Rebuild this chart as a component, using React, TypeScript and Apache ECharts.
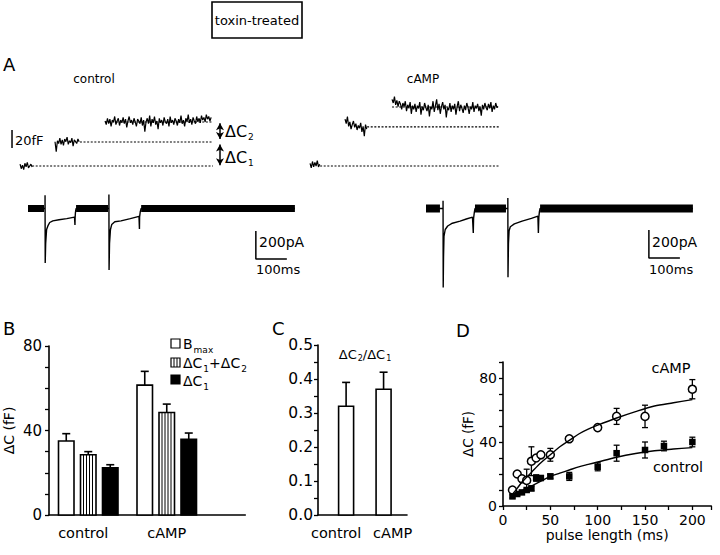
import React, { useEffect, useRef } from 'react';
import * as echarts from 'echarts';

const FONT = 'DejaVu Sans';

// ---------- Panel A : capacitance traces (time ms, fF) ----------
const CAP_DT = 6; // sampling interval (ms)
const capLeftStarts = [0, 174, 423];
const capLeft1 = [2, -3, 1, -4, 3, -1, 4, -2, 0, 2, -1];
const capLeft2 = [27, 16, 28, 25, 31, 24, 29, 23, 30, 27, 32, 24, 28, 26, 31, 22, 29, 27, 25, 30, 27];
const capLeft3 = [
  50, 46, 53, 47, 52, 44, 51, 49, 55, 46,
  50, 53, 45, 51, 48, 54, 47, 52, 43, 50,
  55, 48, 51, 46, 53, 49, 44, 52, 50, 47,
  54, 45, 51, 38, 49, 53, 47, 56, 44, 52,
  48, 55, 46, 50, 41, 53, 48, 51, 45, 54,
  49, 47, 52, 44, 55, 48, 51, 46, 53, 50,
  45, 52, 48, 56, 47, 51, 44, 53, 49, 57,
  48, 52, 46, 54, 50, 47, 55, 49, 53, 48,
  56, 51, 54, 49, 57, 52, 55, 50, 54,
];
const capLeftLevels = [0, 26.7, 48.9];
const capLeftDots = [[60, 960], [298, 960], [423, 955]];

const capRightStarts = [0, 174, 408];
const capRight1 = [3, -2, 5, -1, 4, 0, 6, -1, 2];
const capRight2 = [52, 47, 55, 44, 49, 41, 46, 50, 43, 47, 40, 45, 42, 48, 38, 44, 33, 46, 41];
const capRight3 = [
  74, 70, 77, 68, 73, 66, 72, 69, 63, 70,
  66, 72, 61, 68, 64, 71, 58, 67, 63, 69,
  60, 67, 64, 71, 57, 66, 62, 70, 65, 61,
  68, 55, 66, 63, 72, 60, 67, 74, 62, 69,
  58, 66, 71, 63, 68, 54, 65, 62, 70, 60,
  67, 63, 69, 57, 66, 72, 61, 68, 64, 59,
  67, 62, 70, 65, 58, 66, 63, 71, 60, 67,
  64, 69, 61, 66, 56, 68, 63, 70, 65, 62,
  69, 64, 71, 60, 67, 63, 70, 65, 66,
];
const capRightLevels = [0, 43.5, 65.5];
const capRightDots = [[50, 945], [284, 945], [408, 935]];

const capScaleFF = 20;
const capScaleAt = [-40, 20];
const deltaArrows = [[995, 47.5, 30], [995, 24, 0.8]];

// ---------- Panel A : current traces (time ms, pA) ----------
const currLeftTrace = [
  [0, 0], [55, 0], [55, 95], [55.5, -390], [57, -250], [60, -150], [65, -120], [70, -100], [80, -88],
  [100, -80], [125, -72], [150, -62], [151, -62], [151.5, -118], [152, -65], [153, -30], [155, 0],
  [261, 0], [261, 100], [261.5, -440], [263, -250], [266, -150], [270, -115], [280, -95], [300, -88],
  [330, -72], [358, -56], [359, -56], [359.5, -146], [360, -60], [362, -25], [365, 0], [861, 0],
];
const currLeftBands = [[0, 52], [155, 258], [365, 861]];
const currRightTrace = [
  [0, 0], [55, 0], [55, 55], [55.5, -564], [56.5, -350], [58, -200], [62, -150], [70, -125], [85, -105],
  [110, -90], [130, -75], [150, -62], [152, -60], [152.5, -175], [153.5, -70], [156, -25], [158, 0],
  [264, 0], [264, 75], [264.5, -491], [266, -250], [268, -160], [272, -130], [285, -110], [310, -90],
  [340, -70], [361, -55], [362, -55], [362.5, -175], [364, -60], [366, -20], [368, 0], [861, 0],
];
const currRightBands = [[0, 45], [158, 258], [368, 861]];
const scaleMs = 100;
const scalePA = 200;
const currLeftScaleAt = [735, -361];
const currRightScaleAt = [719, -354];

// ---------- Panel B ----------
const groupNames = ['control', 'cAMP'];
const groupPos = [1, 2];
const bmaxMean = [35, 61.5];
const bmaxErr = [3.5, 6.5];
const sumMean = [28.5, 48.5];
const sumErr = [1.5, 4];
const c1Mean = [22.3, 35.8];
const c1Err = [1.5, 3];

// ---------- Panel C ----------
const ratioMean = [0.32, 0.37];
const ratioErr = [0.07, 0.05];

// ---------- Panel D ----------
const campPulse = [10, 15, 20, 25, 30, 35, 40, 50, 70, 100, 120, 150, 200];
const campVals = [10, 20, 17, 16, 28, 30, 32, 32, 42, 49, 56, 56, 73];
const campErr = [1.5, 1.5, 1.5, 7, 9, 1.5, 1.5, 4, 1.5, 1.5, 5, 7, 6];
const ctrlPulse = [10, 15, 20, 25, 30, 35, 40, 50, 70, 100, 120, 150, 170, 200];
const ctrlVals = [6, 7.5, 8.5, 10, 11, 17.5, 17.5, 18.5, 18.5, 24.5, 33, 35, 37.5, 40];
const ctrlErr = [1, 1, 1, 1, 1.5, 2, 1.5, 1.5, 2.5, 2.5, 5, 5, 3, 3];
const campFitX = [8, 15, 20, 30, 40, 50, 60, 70, 80, 90, 100, 120, 140, 160, 180, 200];
const campFitY = [6, 11, 15, 21, 27, 32, 37, 41, 45, 48, 50.5, 55, 59, 62.5, 64.5, 66.5];
const ctrlFitX = [8, 20, 30, 40, 50, 60, 70, 80, 90, 100, 120, 140, 160, 180, 200];
const ctrlFitY = [5, 9.5, 12.5, 15.5, 18.5, 20.5, 22.5, 24.5, 26, 27.5, 30.5, 32.8, 34.5, 35.6, 36.5];

const near = (a: number, b: number) => Math.abs(a - b) < 1e-6;

function barItem(offset: number, width: number, fill: string, striped: boolean) {
  return (_p: any, api: any) => {
    const x = api.value(0), v = api.value(1), e = api.value(2);
    const base = api.coord([x, 0]);
    const top = api.coord([x, v]);
    const et = api.coord([x, v + e]);
    const cx = base[0] + offset;
    const left = cx - width / 2;
    const children: any[] = [
      { type: 'line', shape: { x1: cx, y1: top[1], x2: cx, y2: et[1] }, style: { stroke: '#000', lineWidth: 1.6 } },
      { type: 'line', shape: { x1: cx - 4, y1: et[1], x2: cx + 4, y2: et[1] }, style: { stroke: '#000', lineWidth: 1.6 } },
      { type: 'rect', shape: { x: left, y: top[1], width, height: base[1] - top[1] }, style: { fill, stroke: '#000', lineWidth: 1.6 } },
    ];
    if (striped) {
      for (let sx = left + 3; sx < left + width - 1; sx += 3) {
        children.push({ type: 'line', shape: { x1: sx, y1: top[1], x2: sx, y2: base[1] }, style: { stroke: '#000', lineWidth: 1 } });
      }
    }
    return { type: 'group', children };
  };
}

function errItem(_p: any, api: any) {
  const x = api.value(0), y = api.value(1), e = api.value(2);
  const a = api.coord([x, y - e]);
  const b = api.coord([x, y + e]);
  const st = { stroke: '#000', lineWidth: 1.3 };
  return {
    type: 'group',
    children: [
      { type: 'line', shape: { x1: a[0], y1: a[1], x2: b[0], y2: b[1] }, style: st },
      { type: 'line', shape: { x1: a[0] - 3, y1: a[1], x2: a[0] + 3, y2: a[1] }, style: st },
      { type: 'line', shape: { x1: b[0] - 3, y1: b[1], x2: b[0] + 3, y2: b[1] }, style: st },
    ],
  };
}

function buildOption(): any {
  const series: any[] = [];
  const black = '#000';

  const noise = (gi: number, t0: number, vals: number[]) => ({
    type: 'line', xAxisIndex: gi, yAxisIndex: gi, symbol: 'none', silent: true,
    data: vals.map((v, i) => [t0 + i * CAP_DT, v]),
    lineStyle: { color: black, width: 1.2 },
  });
  const dotted = (gi: number, a: number, b: number, lvl: number, extra: any = {}) => ({
    type: 'line', xAxisIndex: gi, yAxisIndex: gi, symbol: 'none', silent: true,
    data: [[a, lvl], [b, lvl]],
    lineStyle: { color: black, width: 1.1, type: [2, 1.6] },
    ...extra,
  });

  capLeftDots.forEach((d, i) => {
    const extra = i === 0 ? {
      markLine: {
        silent: true, symbol: ['arrow', 'arrow'], symbolSize: [6, 7],
        lineStyle: { color: black, width: 1.5, type: 'solid' }, label: { show: false },
        data: deltaArrows.map(([x, y1, y2]) => [{ coord: [x, y1] }, { coord: [x, y2] }]),
      },
    } : {};
    series.push(dotted(0, d[0], d[1], capLeftLevels[i], extra));
  });
  capRightDots.forEach((d, i) => series.push(dotted(1, d[0], d[1], capRightLevels[i])));
  [capLeft1, capLeft2, capLeft3].forEach((arr, i) => series.push(noise(0, capLeftStarts[i], arr)));
  [capRight1, capRight2, capRight3].forEach((arr, i) => series.push(noise(1, capRightStarts[i], arr)));
  series.push({
    type: 'line', xAxisIndex: 0, yAxisIndex: 0, symbol: 'none', silent: true,
    data: [capScaleAt, [capScaleAt[0], capScaleAt[1] + capScaleFF]],
    lineStyle: { color: black, width: 1.5 },
  });

  const currGroup = (gi: number, trace: number[][], bands: number[][], at: number[], bw: number) => {
    series.push({
      type: 'line', xAxisIndex: gi, yAxisIndex: gi, symbol: 'none', silent: true,
      data: trace, lineStyle: { color: black, width: 1.4 },
    });
    bands.forEach(([a, b]) => series.push({
      type: 'line', xAxisIndex: gi, yAxisIndex: gi, symbol: 'none', silent: true,
      data: [[a, 0], [b, 0]], lineStyle: { color: black, width: bw, cap: 'butt' },
    }));
    series.push({
      type: 'line', xAxisIndex: gi, yAxisIndex: gi, symbol: 'none', silent: true,
      data: [[at[0], at[1] + scalePA], at, [at[0] + scaleMs, at[1]]],
      lineStyle: { color: black, width: 1.5 },
    });
  };
  currGroup(2, currLeftTrace, currLeftBands, currLeftScaleAt, 7);
  currGroup(3, currRightTrace, currRightBands, currRightScaleAt, 8);

  // Panel B bars
  const bData = (m: number[], e: number[]) => groupPos.map((p, i) => [p, m[i], e[i]]);
  series.push({ type: 'custom', name: 'Bmax', xAxisIndex: 4, yAxisIndex: 4, renderItem: barItem(-22, 15.5, '#fff', false), data: bData(bmaxMean, bmaxErr) });
  series.push({ type: 'custom', name: 'dC1+dC2', xAxisIndex: 4, yAxisIndex: 4, renderItem: barItem(0, 15.5, '#fff', true), data: bData(sumMean, sumErr) });
  series.push({ type: 'custom', name: 'dC1', xAxisIndex: 4, yAxisIndex: 4, renderItem: barItem(22, 15.5, '#000', false), data: bData(c1Mean, c1Err) });

  // Panel C bars
  series.push({ type: 'custom', xAxisIndex: 5, yAxisIndex: 5, renderItem: barItem(0, 15, '#fff', false), data: bData(ratioMean, ratioErr) });

  // Panel D
  series.push({ type: 'line', xAxisIndex: 6, yAxisIndex: 6, symbol: 'none', smooth: 0.3, silent: true,
    data: campFitX.map((x, i) => [x, campFitY[i]]), lineStyle: { color: black, width: 1.4 } });
  series.push({ type: 'line', xAxisIndex: 6, yAxisIndex: 6, symbol: 'none', smooth: 0.3, silent: true,
    data: ctrlFitX.map((x, i) => [x, ctrlFitY[i]]), lineStyle: { color: black, width: 1.4 } });
  series.push({ type: 'custom', xAxisIndex: 6, yAxisIndex: 6, renderItem: errItem,
    data: campPulse.map((x, i) => [x, campVals[i], campErr[i]]) });
  series.push({ type: 'custom', xAxisIndex: 6, yAxisIndex: 6, renderItem: errItem,
    data: ctrlPulse.map((x, i) => [x, ctrlVals[i], ctrlErr[i]]) });
  series.push({ type: 'scatter', name: 'control', xAxisIndex: 6, yAxisIndex: 6, symbol: 'rect', symbolSize: 6.5,
    data: ctrlPulse.map((x, i) => [x, ctrlVals[i]]), itemStyle: { color: black, opacity: 1 } });
  series.push({ type: 'scatter', name: 'cAMP', xAxisIndex: 6, yAxisIndex: 6, symbol: 'circle', symbolSize: 8,
    data: campPulse.map((x, i) => [x, campVals[i]]), itemStyle: { color: '#fff', borderColor: black, borderWidth: 1.5, opacity: 1 } });

  const hid = (gi: number, min: number, max: number) => ({ type: 'value', gridIndex: gi, min, max, show: false });
  const axLine = { show: true, onZero: false, lineStyle: { color: black, width: 1.6 } };
  const axTick = { show: true, inside: false, length: 4, lineStyle: { color: black, width: 1.3 } };
  const lbl = (size: number, margin: number) => ({ color: black, fontFamily: FONT, fontSize: size, margin });
  const nameStyle = (size: number) => ({ color: black, fontFamily: FONT, fontSize: size });

  const xAxis = [
    hid(0, -60, 1010), hid(1, -60, 1010), hid(2, 0, 900), hid(3, 0, 900),
    {
      type: 'value', gridIndex: 4, min: 0.5, max: 3, interval: 0.5, axisLine: axLine, axisTick: { show: false },
      splitLine: { show: false },
      axisLabel: {
        ...lbl(14.5, 10),
        formatter: (v: number) => (near(v, groupPos[0]) ? `{l|${groupNames[0]}}` : near(v, groupPos[1]) ? groupNames[1] : ''),
        rich: { l: { fontSize: 14.5, fontFamily: FONT, color: black, padding: [0, 10, 0, 0] } },
      },
    },
    {
      type: 'value', gridIndex: 5, min: 0.25, max: 2.625, interval: 0.25, axisLine: axLine, axisTick: { show: false },
      splitLine: { show: false },
      axisLabel: {
        ...lbl(14.5, 10),
        formatter: (v: number) => (near(v, groupPos[0]) ? `{l|${groupNames[0]}}` : near(v, groupPos[1]) ? `{r|${groupNames[1]}}` : ''),
        rich: {
          l: { fontSize: 14.5, fontFamily: FONT, color: black, padding: [0, 20, 0, 0] },
          r: { fontSize: 14.5, fontFamily: FONT, color: black, padding: [0, 0, 0, 18] },
        },
      },
    },
    {
      type: 'value', gridIndex: 6, min: 0, max: 220, interval: 25, axisLine: axLine, axisTick: axTick,
      splitLine: { show: false },
      axisLabel: { ...lbl(14, 7), formatter: (v: number) => (v % 50 === 0 ? String(v) : '') },
      name: 'pulse length (ms)', nameLocation: 'middle', nameGap: 22, nameTextStyle: nameStyle(14),
    },
  ];
  const yAxis = [
    hid(0, -20, 80), hid(1, -20, 80), hid(2, -600, 200), hid(3, -600, 200),
    {
      type: 'value', gridIndex: 4, min: 0, max: 80, interval: 10, axisLine: axLine, axisTick: axTick,
      splitLine: { show: false },
      axisLabel: { ...lbl(15, 7), formatter: (v: number) => (v % 40 === 0 ? String(v) : '') },
      name: 'ΔC (fF)', nameLocation: 'middle', nameGap: 33, nameTextStyle: nameStyle(14),
    },
    {
      type: 'value', gridIndex: 5, min: 0, max: 0.5, interval: 0.05, axisLine: axLine, axisTick: axTick,
      splitLine: { show: false },
      axisLabel: { ...lbl(15.5, 5), formatter: (v: number) => (Math.round(v * 100) % 10 === 0 ? v.toFixed(1) : '') },
    },
    {
      type: 'value', gridIndex: 6, min: 0, max: 90, interval: 10, axisLine: axLine, axisTick: axTick,
      splitLine: { show: false },
      axisLabel: { ...lbl(14, 6), formatter: (v: number) => (v % 40 === 0 ? String(v) : '') },
      name: 'ΔC (fF)', nameLocation: 'middle', nameGap: 28, nameTextStyle: nameStyle(13.5),
    },
  ];

  const txt = (x: number, y: number, text: string, size: number, align = 'left') => ({
    type: 'text', x, y, silent: true,
    style: { text, fontSize: size, fontFamily: FONT, fill: black, align, verticalAlign: 'middle' },
  });
  const richTxt = (x: number, y: number, text: string, m: number, s: number, align = 'left', subPad = 11) => ({
    type: 'text', x, y, silent: true,
    style: {
      text, align, verticalAlign: 'middle', fontFamily: FONT, fill: black, fontSize: m,
      rich: {
        m: { fontSize: m, fontFamily: FONT, fill: black },
        s: { fontSize: s, fontFamily: FONT, fill: black, padding: [subPad, 0, 0, 1] },
      },
    },
  });
  const sq = (x: number, y: number, fill: string) => ({
    type: 'rect', silent: true, shape: { x, y, width: 9, height: 9 }, style: { fill, stroke: black, lineWidth: 1.2 },
  });

  const graphic: any[] = [
    { type: 'rect', silent: true, shape: { x: 212, y: 2, width: 90, height: 36 }, style: { fill: 'none', stroke: black, lineWidth: 1.6 } },
    txt(257, 20, 'toxin-treated', 13, 'center'),
    txt(3, 64, 'A', 18),
    txt(94, 79, 'control', 12, 'center'),
    txt(423, 79, 'cAMP', 12, 'center'),
    txt(15, 140, '20fF', 13),
    richTxt(225, 131, '{m|ΔC}{s|2}', 16, 9, 'left', 12),
    richTxt(225, 157, '{m|ΔC}{s|1}', 16, 9, 'left', 12),
    txt(259, 242, '200pA', 14),
    txt(256, 269, '100ms', 13),
    txt(652, 242, '200pA', 14),
    txt(649, 269, '100ms', 13),
    txt(3, 328, 'B', 18),
    txt(272, 328, 'C', 18),
    txt(456, 330, 'D', 18),
    sq(171, 339, '#fff'),
    sq(171, 358, '#fff'),
    ...[174, 177].map((x) => ({ type: 'line', silent: true, shape: { x1: x, y1: 358, x2: x, y2: 367 }, style: { stroke: black, lineWidth: 1 } })),
    sq(171, 375, black),
    richTxt(183, 344, '{m|B}{s|max}', 14, 9),
    richTxt(183, 363, '{m|ΔC}{s|1}{m|+ΔC}{s|2}', 14, 9),
    richTxt(183, 381, '{m|ΔC}{s|1}', 14, 9),
    richTxt(365, 354, '{m|ΔC}{s|2}{m|/ΔC}{s|1}', 13, 8, 'center', 9),
    txt(671, 368, 'cAMP', 14.5, 'center'),
    txt(678, 467, 'control', 14.5, 'center'),
  ];

  return {
    animation: false,
    backgroundColor: '#fff',
    textStyle: { fontFamily: FONT },
    grid: [
      { left: 8, top: 94, width: 215, height: 90 },
      { left: 298, top: 94, width: 215, height: 90 },
      { left: 28, top: 180.5, width: 279, height: 112 },
      { left: 426, top: 180.5, width: 279, height: 112 },
      { left: 49, top: 346, width: 196.25, height: 169 },
      { left: 318, top: 345, width: 89, height: 170 },
      { left: 503, top: 362, width: 208.3, height: 144 },
    ],
    xAxis,
    yAxis,
    series,
    graphic,
  };
}

export default function App() {
  const ref = useRef<HTMLDivElement>(null);
  useEffect(() => {
    document.body.style.margin = '0';
    const chart = echarts.init(ref.current!, null, { renderer: 'svg' });
    chart.setOption(buildOption());
    return () => chart.dispose();
  }, []);
  return <div ref={ref} style={{ width: 720, height: 555, background: '#fff' }} />;
}
